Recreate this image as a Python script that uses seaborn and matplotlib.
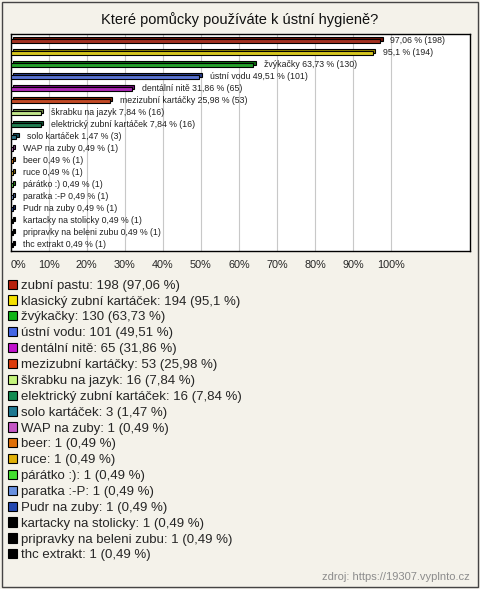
import matplotlib
matplotlib.use('Agg')
import matplotlib.pyplot as plt
import matplotlib.transforms as mtransforms
from matplotlib.patches import Patch, Rectangle
import seaborn as sns

categories = ['zubní pastu', 'klasický zubní kartáček', 'žvýkačky', 'ústní vodu',
              'dentální nitě', 'mezizubní kartáčky', 'škrabku na jazyk',
              'elektrický zubní kartáček', 'solo kartáček', 'WAP na zuby', 'beer',
              'ruce', 'párátko :)', 'paratka :-P', 'Pudr na zuby',
              'kartacky na stolicky', 'pripravky na beleni zubu', 'thc extrakt']
counts = [198, 194, 130, 101, 65, 53, 16, 16, 3, 1, 1, 1, 1, 1, 1, 1, 1, 1]
percents = [97.06, 95.1, 63.73, 49.51, 31.86, 25.98, 7.84, 7.84, 1.47,
            0.49, 0.49, 0.49, 0.49, 0.49, 0.49, 0.49, 0.49, 0.49]
colors = ['#b8200c', '#f4e000', '#10b418', '#4466e4', '#c012cc', '#dc3c0c',
          '#c4f47c', '#128c52', '#1e7890', '#c456c4', '#e07008', '#e0b008',
          '#44e030', '#6890e0', '#2448b0', '#000000', '#000000', '#000000']
x_ticks = [0, 10, 20, 30, 40, 50, 60, 70, 80, 90, 100]

bg = '#f4f2ea'
sns.set_style('white')
plt.rcParams['font.family'] = ['Liberation Sans', 'DejaVu Sans']

fig = plt.figure(figsize=(4.8, 5.89), dpi=100, facecolor=bg)
ax = fig.add_axes([10.7 / 480, 1 - 250.7 / 589, (470 - 10.7) / 480, (250.7 - 34) / 589])
ax.set_facecolor('white')

sns.barplot(x=percents, y=categories, hue=categories, palette=colors, legend=False,
            orient='h', width=0.38, edgecolor='black', linewidth=0.8, ax=ax, zorder=3)

# fake 3D depth: darker copy shifted up-right behind each bar
shift = mtransforms.ScaledTranslation(0.025, 0.018, fig.dpi_scale_trans)
for bar, col in zip(list(ax.patches), colors):
    r, g, b, _ = matplotlib.colors.to_rgba(col)
    dark = (r * 0.6, g * 0.6, b * 0.6)
    back = Rectangle(bar.get_xy(), bar.get_width(), bar.get_height(),
                     facecolor=dark, edgecolor='black', linewidth=0.8,
                     transform=ax.transData + shift, zorder=2)
    ax.add_patch(back)

for i, (name, p, n) in enumerate(zip(categories, percents, counts)):
    ptxt = f'{p:g}'.replace('.', ',')
    txt = f'{ptxt} % ({n})' if i < 2 else f'{name} {ptxt} % ({n})'
    ax.annotate(txt, xy=(p, i), xytext=(7.5, 0), textcoords='offset points',
                va='center', ha='left', fontsize=6.3, color='#222222', zorder=4)

ax.set_xlim(0, 120.7)
ax.set_ylim(len(categories) - 0.525, -0.583)
ax.set_xticks(x_ticks)
ax.set_xticklabels([f'{t}%' for t in x_ticks], fontsize=7.8)
ax.get_xticklabels()[0].set_horizontalalignment('left')
ax.tick_params(axis='x', length=0, pad=7)
ax.set_yticks([])
ax.set_xlabel('')
ax.set_ylabel('')
ax.grid(axis='x', color='#c8c8c8', linewidth=0.8, zorder=0)
ax.set_axisbelow(True)
for s in ax.spines.values():
    s.set_color('black')
    s.set_linewidth(1)

fig.text(0.5, 1 - 20 / 589, 'Které pomůcky používáte k ústní hygieně?',
         ha='center', va='center', fontsize=10.5, color='#111111')

handles = [Patch(facecolor=c, edgecolor='black', linewidth=0.8) for c in colors]
labels = [f'{c}: {n} ({p:g} %)'.replace('.', ',') for c, n, p in zip(categories, counts, percents)]
fig.legend(handles, labels, loc='upper left', bbox_to_anchor=(8 / 480, 1 - 279.5 / 589),
           frameon=False, fontsize=9.5, handlelength=0.7, handleheight=0.7,
           handletextpad=0.25, labelspacing=0.275, borderpad=0, borderaxespad=0)

fig.text(470 / 480, 1 - 577 / 589, 'zdroj: https://19307.vyplnto.cz', ha='right',
         va='center', fontsize=8, color='#8c8c8c')

fig.patches.append(Rectangle((2 / 480, 2 / 589), 476 / 480, 585 / 589, fill=False,
                             edgecolor='#444444', linewidth=1, transform=fig.transFigure))

fig.savefig('out.png', dpi=100, facecolor=bg)
